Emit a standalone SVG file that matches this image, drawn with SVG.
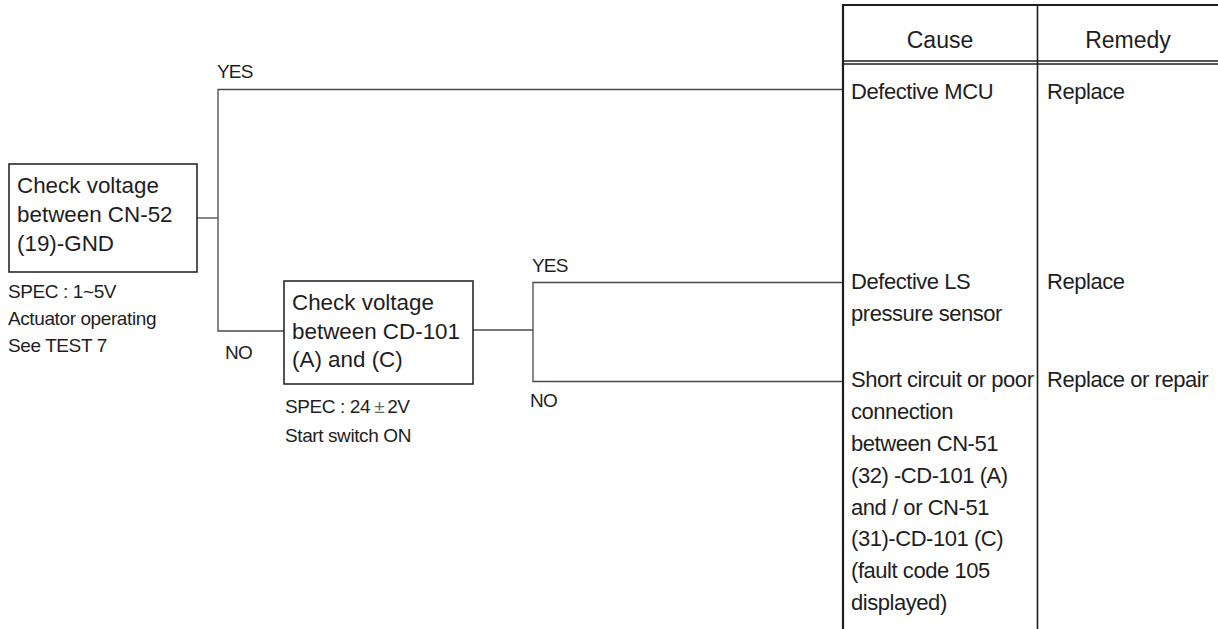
<svg xmlns="http://www.w3.org/2000/svg" width="1218" height="629" viewBox="0 0 1218 629">
<style>
text{font-family:"Liberation Sans",Arial,sans-serif;fill:#1e1e1e}
.box{fill:#fff;stroke:#2a2a2a;stroke-width:1.6}
.big{font-size:22.4px}
.tbl{font-size:22px;letter-spacing:-0.45px}
.hdr{font-size:23px;text-anchor:middle}
.sm{font-size:19px;letter-spacing:-0.4px}
.lbl{font-size:19px;letter-spacing:-0.8px}
.con{fill:none;stroke:#4a4a4a;stroke-width:1.3}
.tline{stroke:#1e1e1e;fill:none}
</style>
<rect width="1218" height="629" fill="#fff"/>
<g id="table">
<line class="tline" x1="842" y1="5" x2="1218" y2="5" stroke-width="2.2"/>
<line class="tline" x1="843" y1="4" x2="843" y2="629" stroke-width="2.2"/>
<line class="tline" x1="1037.5" y1="5" x2="1037.5" y2="629" stroke-width="1.6"/>
<line class="tline" x1="842" y1="61" x2="1218" y2="61" stroke-width="1.3"/>
<line class="tline" x1="842" y1="64" x2="1218" y2="64" stroke-width="1.3"/>
<text class="hdr" x="940" y="48">Cause</text>
<text class="hdr" x="1128" y="48">Remedy</text>
</g>
<g id="cause1">
<text class="tbl" x="851" y="99">Defective MCU</text>
<text class="tbl" x="1047" y="99">Replace</text>
</g>
<g id="cause2">
<text class="tbl" x="851" y="289">Defective LS</text>
<text class="tbl" x="851" y="321">pressure sensor</text>
<text class="tbl" x="1047" y="289">Replace</text>
</g>
<g id="cause3">
<text class="tbl" x="851" y="387">Short circuit or poor</text>
<text class="tbl" x="851" y="419">connection</text>
<text class="tbl" x="851" y="451">between CN-51</text>
<text class="tbl" x="851" y="483">(32) -CD-101 (A)</text>
<text class="tbl" x="851" y="515">and / or CN-51</text>
<text class="tbl" x="851" y="546">(31)-CD-101 (C)</text>
<text class="tbl" x="851" y="578">(fault code 105</text>
<text class="tbl" x="851" y="610">displayed)</text>
<text class="tbl" x="1047" y="387">Replace or repair</text>
</g>
<g id="connectors">
<polyline class="con" points="197,218 218,218"/>
<polyline class="con" points="842,89.5 218,89.5 218,331 284,331"/>
<polyline class="con" points="473,330 533,330"/>
<polyline class="con" points="842,282.5 533,282.5 533,381.5 842,381.5"/>
<text class="lbl" x="217" y="78">YES</text>
<text class="lbl" x="225" y="359">NO</text>
<text class="lbl" x="532" y="272">YES</text>
<text class="lbl" x="530" y="407">NO</text>
</g>
<g id="check1">
<rect class="box" x="9" y="164" width="188" height="108"/>
<text class="big" x="17" y="193">Check voltage</text>
<text class="big" x="17" y="222">between CN-52</text>
<text class="big" x="17" y="251">(19)-GND</text>
<text class="sm" x="8" y="298">SPEC : 1~5V</text>
<text class="sm" x="8" y="325">Actuator operating</text>
<text class="sm" x="8" y="352">See TEST 7</text>
</g>
<g id="check2">
<rect class="box" x="284" y="281" width="189" height="103"/>
<text class="big" x="292" y="310">Check voltage</text>
<text class="big" x="292" y="339">between CD-101</text>
<text class="big" x="292" y="367">(A) and (C)</text>
<text class="sm" x="285" y="413">SPEC : 24<tspan dx="4" fill="#666">±</tspan><tspan dx="3">2V</tspan></text>
<text class="sm" x="285" y="442">Start switch ON</text>
</g>
</svg>
